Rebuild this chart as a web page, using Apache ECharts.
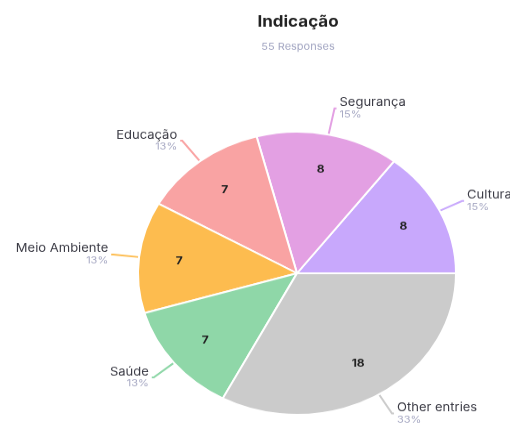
<!DOCTYPE html>
<html>
<head>
<meta charset="utf-8">
<script src="https://cdn.jsdelivr.net/npm/echarts@6/dist/echarts.min.js"></script>
<style>
html,body{margin:0;padding:0;background:#fff;overflow:hidden;width:510px;height:427px;}
#chart{width:510px;height:480px;transform:scaleY(0.89);transform-origin:0 0;}
</style>
</head>
<body>
<div id="chart"></div>
<script>
const categories = ['Cultura', 'Segurança', 'Educação', 'Meio Ambiente', 'Saúde', 'Other entries'];
const values = [8, 8, 7, 7, 7, 18];
const colors = ['#c8a8fc', '#e3a0e3', '#f9a3a3', '#fdbc4f', '#8fd7a8', '#cbcbcb'];
const titleText = 'Indicação';

const total = values.reduce((a, b) => a + b, 0);
const lineLen = [25, 30, 29, 26, 26, 25];
const data = categories.map((c, i) => ({
  name: c, value: values[i],
  itemStyle: { color: colors[i] },
  labelLine: { length: lineLen[i] }
}));
const FONT = 'Inter, "Noto Sans", sans-serif';

const chart = echarts.init(document.getElementById('chart'), null, { renderer: 'canvas' });
chart.setOption({
  animation: false,
  title: {
    text: titleText,
    subtext: total + ' Responses',
    left: 293,
    top: 11,
    textAlign: 'center',
    itemGap: 14,
    textStyle: { fontFamily: FONT, fontSize: 17, fontWeight: 'bold', color: '#222' },
    subtextStyle: { fontFamily: FONT, fontSize: 11, color: '#a3a6c2' }
  },
  series: [
    {
      type: 'pie',
      center: [297, 307],
      radius: [0, 159],
      startAngle: 0,
      clockwise: false,
      data: data,
      itemStyle: { borderColor: '#fff', borderWidth: 2 },
      label: {
        show: true,
        position: 'outside',
        overflow: 'none',
        edgeDistance: 0,
        distanceToLabelLine: 3,
        formatter: p => '{n|' + p.name + '}\n{p|' + Math.round(p.value / total * 100) + '%}',
        rich: {
          n: { fontFamily: FONT, fontSize: 13, color: '#3a3a44', lineHeight: 14 },
          p: { fontFamily: FONT, fontSize: 11, color: '#a8aac4', lineHeight: 13 }
        }
      },
      labelLine: { show: true, length: 26, length2: 2, lineStyle: { width: 2 } }
    },
    {
      type: 'pie',
      center: [297, 307],
      radius: [72, 159],
      startAngle: 0,
      clockwise: false,
      silent: true,
      data: data.map(d => ({ name: d.name, value: d.value })),
      itemStyle: { color: 'rgba(0,0,0,0)', borderWidth: 0 },
      label: {
        show: true,
        position: 'inside',
        formatter: p => String(p.value),
        fontFamily: FONT, fontSize: 12, fontWeight: 'bold', color: '#222'
      },
      labelLine: { show: false }
    }
  ]
});
</script>
</body>
</html>
